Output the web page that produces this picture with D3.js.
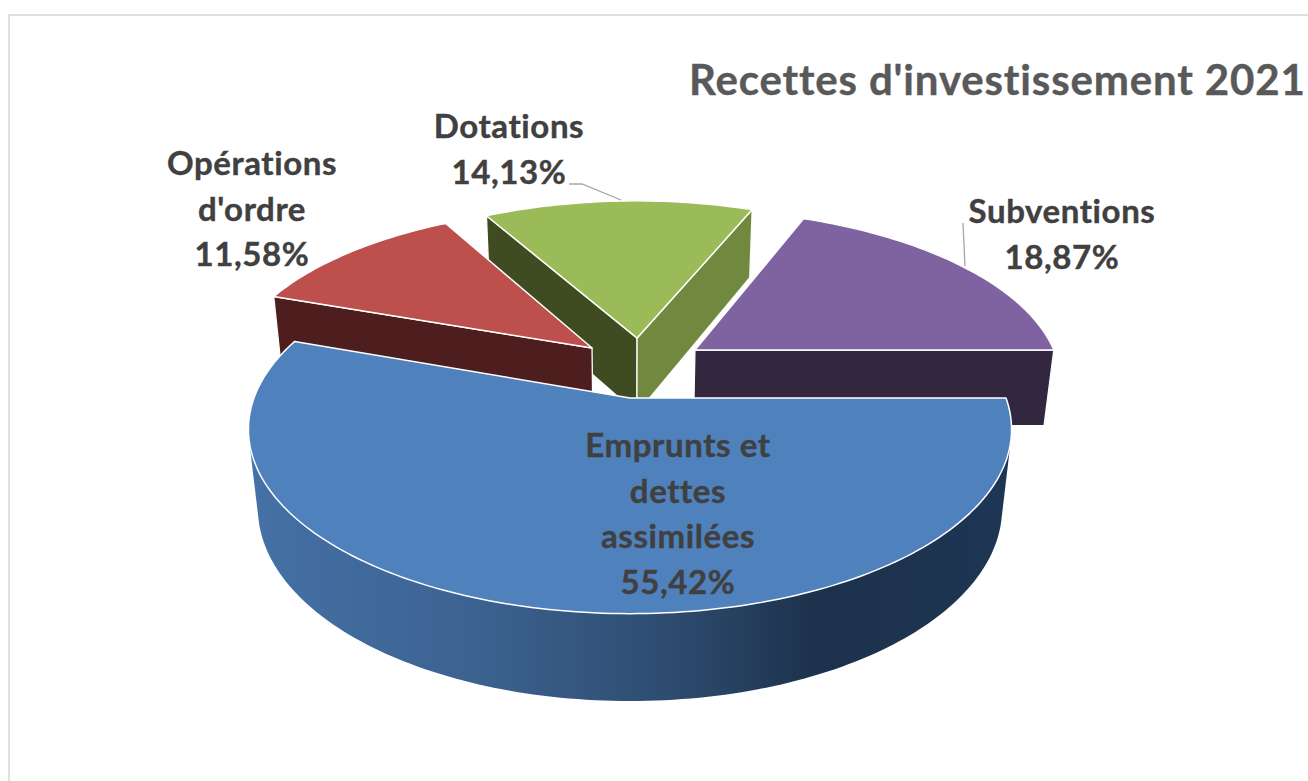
<!DOCTYPE html>
<html>
<head>
<meta charset="utf-8">
<script src="https://cdn.jsdelivr.net/npm/d3@7"></script>
<style>
    html, body { margin: 0; padding: 0; background: #fff; overflow: hidden; }
    text { font-family: Lato, "Open Sans", sans-serif; font-weight: 700; }
</style>
</head>
<body>
<div id="chart"></div>
<script>
const title = "Recettes d'investissement 2021";
const categories = ['Emprunts et dettes assimilées', "Opérations d'ordre", 'Dotations', 'Subventions'];
const shares = [55.42, 11.58, 14.13, 18.87];
const labelLines = [['Emprunts et', 'dettes', 'assimilées'], ['Opérations', "d'ordre"], ['Dotations'], ['Subventions']];

const width = 1308, height = 781;

// look of each slice, same order as categories
const topColors = ['#4f81bd', '#bd4f4c', '#9bbb59', '#7f62a0'];
const startCutColors = ['#2c4866', '#4d1e1d', '#3f4b20', '#332740'];
const endCutColors = ['#2c4866', '#4d1e1d', '#71893f', '#332740'];

// how far each slice is pulled out, in pie radius units
const explode = [[0, 0], [-0.106, -0.293], [0.02, -0.355], [0.181, -0.281]];
const labelX = [678, 252, 509, 1062];
const labelY = [457, 175, 138, 223];
const lineGap = 45.6;

// the pie is a flat disc seen from above, so it goes through a perspective projection
const cx = 630, cy = 398, radius = 376, squash = 179, thickness = 80;
const persp = 0.17, perspDepth = 0.0247;

function project(u, v, z) {
    const d = 1 - persp * v + perspDepth * z;
    return [cx + radius * u / d, cy + (squash * v + thickness * z) / d];
}

const svg = d3.select('#chart')
    .append('svg')
    .attr('width', width)
    .attr('height', height);

const gradient = svg.append('defs')
    .append('linearGradient')
    .attr('id', 'wall')
    .attr('gradientUnits', 'userSpaceOnUse')
    .attr('x1', 250).attr('x2', 1010)
    .attr('y1', 0).attr('y2', 0);

gradient.selectAll('stop')
    .data([[0, '#4571a6'], [0.3, '#3c6290'], [0.55, '#2e4c70'], [0.75, '#1c314b'], [1, '#1e3654']])
    .enter().append('stop')
    .attr('offset', d => d[0])
    .attr('stop-color', d => d[1]);

// frame of the original picture
svg.append('path')
    .attr('d', `M9,${height}V15H${width}`)
    .attr('fill', 'none')
    .attr('stroke', '#e0e0e0')
    .attr('stroke-width', 2);

const pie = d3.pie()
    .sort(null)
    .startAngle(Math.PI / 2)
    .endAngle(Math.PI / 2 + 2 * Math.PI)
    .value(d => d);

const arcs = pie(shares).map((d, i) => ({ ...d, i }));
const line = d3.line();

function rimPoints(d, z, endAngle = d.endAngle) {
    const [ox, oy] = explode[d.i];
    const steps = Math.ceil((endAngle - d.startAngle) / 0.02);
    return d3.range(steps + 1).map(k => {
        const a = d.startAngle + (endAngle - d.startAngle) * k / steps;
        return project(ox + Math.sin(a), oy - Math.cos(a), z);
    });
}

function cutPoints(d, angle) {
    const [ox, oy] = explode[d.i];
    const u = ox + Math.sin(angle), v = oy - Math.cos(angle);
    return [project(ox, oy, 0), project(u, v, 0), project(u, v, 1), project(ox, oy, 1)];
}

// the outside of a slice is the hull of its front half, tangent lines included
function wallPath(d) {
    const frontEnd = Math.min(d.endAngle, 1.5 * Math.PI);
    if (d.startAngle < frontEnd) {
        return line(d3.polygonHull(rimPoints(d, 0, frontEnd).concat(rimPoints(d, 1, frontEnd)))) + 'Z';
    }
    return line(rimPoints(d, 0).concat(rimPoints(d, 1).reverse())) + 'Z';
}

// back slices first, the big blue one goes over everything
const slices = svg.selectAll('g.slice')
    .data([arcs[3], arcs[2], arcs[1], arcs[0]])
    .enter().append('g')
    .attr('class', 'slice');

slices.append('path')
    .attr('d', wallPath)
    .attr('fill', d => d.i === 0 ? 'url(#wall)' : startCutColors[d.i]);

slices.each(function(d) {
    const g = d3.select(this);
    const start = cutPoints(d, d.startAngle);
    const end = cutPoints(d, d.endAngle);
    // only the cut faces that look at the viewer
    if (d3.polygonArea(start) > 0) {
        g.append('path')
            .attr('d', line(start) + 'Z')
            .attr('fill', startCutColors[d.i])
            .attr('stroke', 'white')
            .style('stroke-width', '1.3px');
    }
    if (d3.polygonArea(end) < 0) {
        g.append('path')
            .attr('d', line(end) + 'Z')
            .attr('fill', endCutColors[d.i])
            .attr('stroke', 'white')
            .style('stroke-width', '1.3px');
    }
});

slices.append('path')
    .attr('d', d => line([project(explode[d.i][0], explode[d.i][1], 0)].concat(rimPoints(d, 0))) + 'Z')
    .attr('fill', d => topColors[d.i])
    .attr('stroke', 'white')
    .attr('stroke-linejoin', 'round')
    .style('stroke-width', '1.5px');

// leader lines
const leaders = [[[569, 184], [582, 184], [621, 200]], [[963, 223], [965, 266]]];
svg.selectAll('path.leader')
    .data(leaders)
    .enter().append('path')
    .attr('class', 'leader')
    .attr('d', line)
    .attr('fill', 'none')
    .attr('stroke', '#a6a6a6')
    .attr('stroke-width', 1.3);

svg.append('text')
    .attr('x', 689)
    .attr('y', 95)
    .attr('font-size', '42px')
    .attr('letter-spacing', '0.85px')
    .attr('fill', '#595959')
    .attr('stroke', '#595959')
    .attr('stroke-width', 0.4)
    .text(title);

const pct = d => d3.format('.2f')(d).replace('.', ',') + '%';

const labels = svg.selectAll('text.label')
    .data(arcs)
    .enter().append('text')
    .attr('class', 'label')
    .attr('text-anchor', 'middle')
    .attr('font-size', '33px')
    .attr('letter-spacing', '0.6px')
    .attr('fill', '#404040')
    .attr('stroke', '#404040')
    .attr('stroke-width', 0.4)
    .attr('data-category', d => categories[d.i]);

labels.selectAll('tspan')
    .data(d => labelLines[d.i].concat(pct(d.data)).map((t, k) => ({ t, k, i: d.i })))
    .enter().append('tspan')
    .attr('x', d => labelX[d.i])
    .attr('y', d => labelY[d.i] + d.k * lineGap)
    .text(d => d.t);
</script>
</body>
</html>
